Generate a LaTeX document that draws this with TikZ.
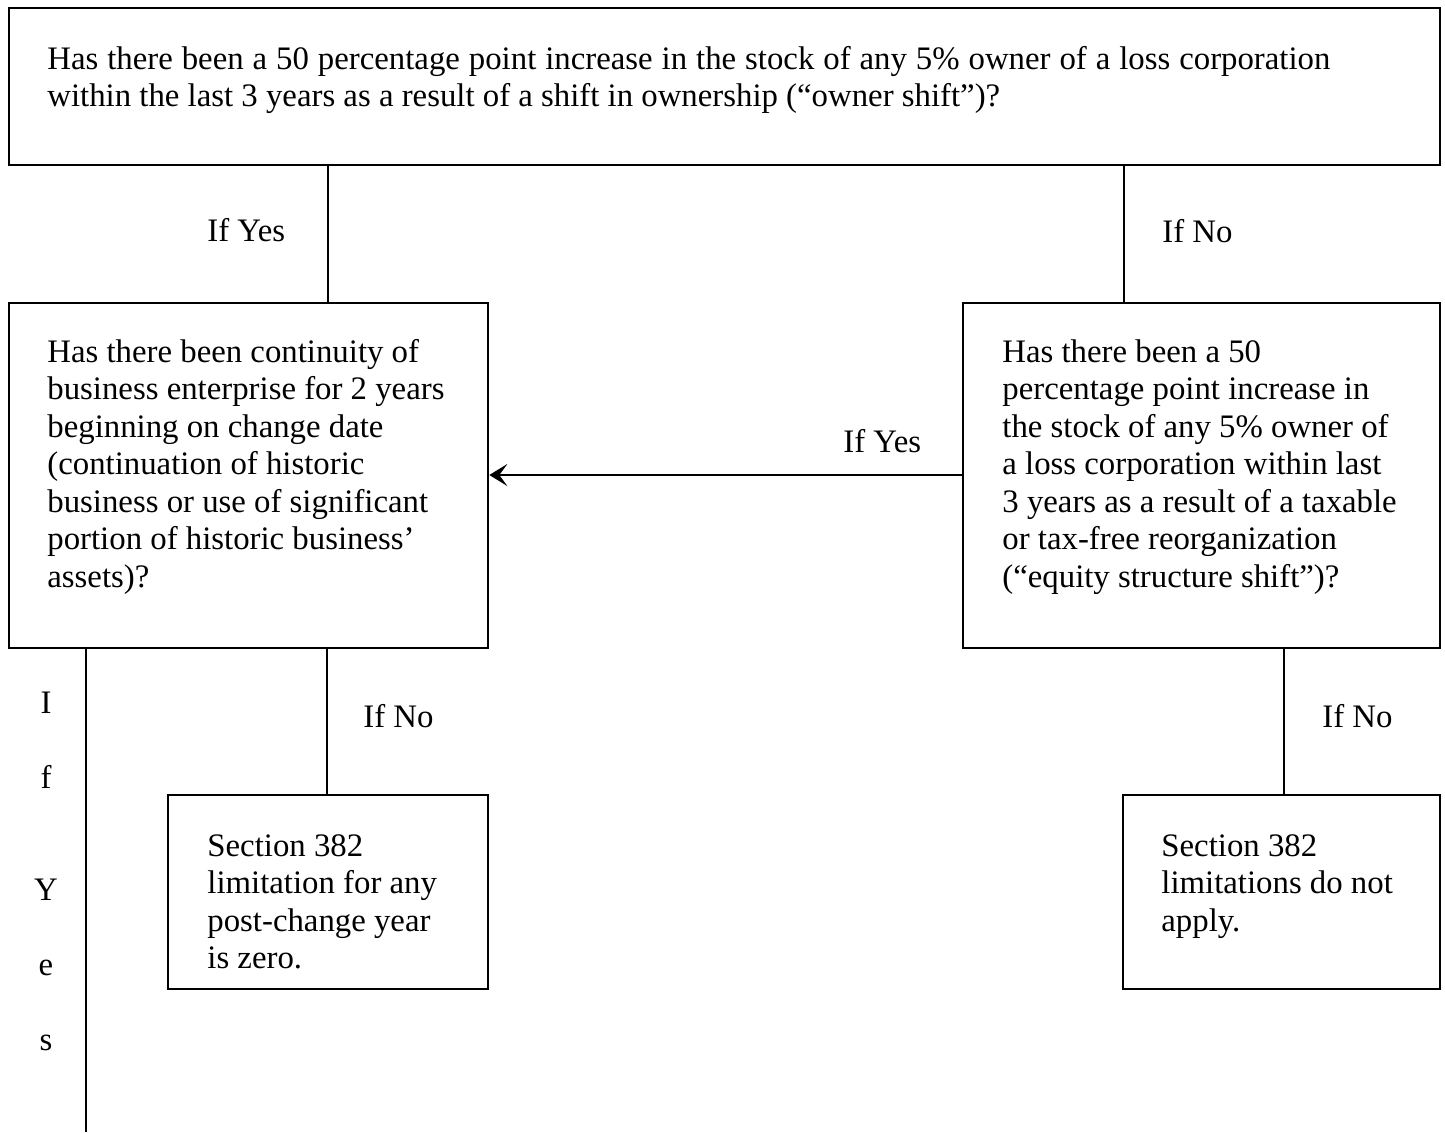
\documentclass[tikz,border=0pt]{standalone}
\usepackage{fontspec}
\setmainfont{Liberation Serif}
\usetikzlibrary{arrows.meta,fit}
\begin{document}
\begin{tikzpicture}[x=0.5pt,y=-0.5pt,
  box/.style={draw, line width=1.3pt, inner sep=0pt},
  conn/.style={line width=1.15pt},
  txt/.style={anchor=base west, inner sep=0pt, font=\fontsize{16.4}{18.75}\selectfont},
  vl/.style={anchor=base, inner sep=0pt, font=\fontsize{16.4}{18.75}\selectfont}]
\useasboundingbox (0,0) rectangle (1445,1132);
% boxes
\node[box, fit={(9,8) (1440,165)}] (q1) {};
\node[box, fit={(9,303) (488,648)}] (q2) {};
\node[box, fit={(963,303) (1440,648)}] (q3) {};
\node[box, fit={(168,795) (488,989)}] (r1) {};
\node[box, fit={(1123,795) (1440,989)}] (r2) {};
% texts
\node[txt] (t1) at (47,69) {\begin{tabular}[t]{@{}l@{}}\hbox to 641.5pt{Has there been a 50 percentage point increase in the stock of any 5\% owner of a loss corporation}\\within the last 3 years as a result of a shift in ownership (“owner shift”)?\end{tabular}};
\node[txt] (t2) at (47,362) {\begin{tabular}[t]{@{}l@{}}Has there been continuity of\\business enterprise for 2 years\\beginning on change date\\(continuation of historic\\business or use of significant\\portion of historic business’\\assets)?\end{tabular}};
\node[txt] (t3) at (1002,362) {\begin{tabular}[t]{@{}l@{}}Has there been a 50\\percentage point increase in\\the stock of any 5\% owner of\\a loss corporation within last\\3 years as a result of a taxable\\or tax-free reorganization\\(“equity structure shift”)?\end{tabular}};
\node[txt] (t4) at (207,856) {\begin{tabular}[t]{@{}l@{}}Section 382\\limitation for any\\post-change year\\is zero.\end{tabular}};
\node[txt] (t5) at (1161,856) {\begin{tabular}[t]{@{}l@{}}Section 382\\limitations do not\\apply.\end{tabular}};
% connectors
\coordinate (xa) at (328,0);
\coordinate (xb) at (1124,0);
\coordinate (xc) at (327,0);
\coordinate (xd) at (1284,0);
\coordinate (ay) at (0,475);
\coordinate (yesend) at (86,1132);
\draw[conn] (q1.south -| xa) -- (q2.north -| xa);
\draw[conn] (q1.south -| xb) -- (q3.north -| xb);
\draw[conn, -{Stealth[length=9pt,width=11pt,inset=4pt]}] (q3.west |- ay) -- (q2.east |- ay);
\draw[conn] (q2.south -| xc) -- (r1.north -| xc);
\draw[conn] (q3.south -| xd) -- (r2.north -| xd);
\draw[conn] (q2.south -| yesend) -- (yesend);
% labels
\node[txt] (l1) at (207,241) {If Yes};
\node[txt] (l2) at (1162,242) {If No};
\node[txt] (l3) at (843,452) {If Yes};
\node[txt] (l4) at (363,727) {If No};
\node[txt] (l5) at (1322,727) {If No};
\node[vl] (v1) at (46,713) {I};
\node[vl] (v2) at (46,788) {f};
\node[vl] (v3) at (46,900) {Y};
\node[vl] (v4) at (46,975) {e};
\node[vl] (v5) at (46,1050) {s};
\end{tikzpicture}
\end{document}
